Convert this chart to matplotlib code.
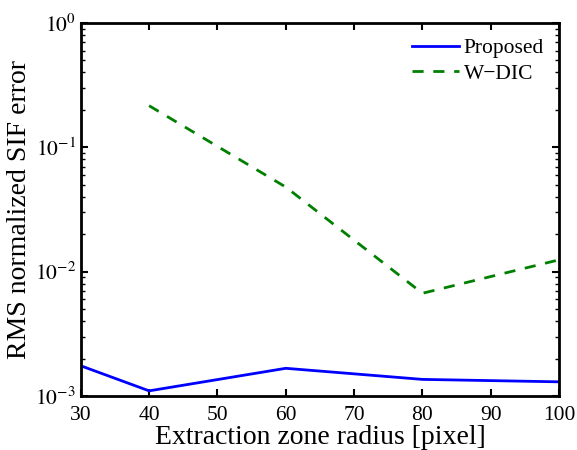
import matplotlib
matplotlib.use("Agg")
import matplotlib.pyplot as plt
import numpy as np

plt.rcParams['font.family'] = ['Liberation Serif', 'DejaVu Serif']
plt.rcParams['mathtext.fontset'] = 'stix'

radius_proposed = [30, 40, 60, 80, 100]
err_proposed = [1.75e-3, 1.10e-3, 1.67e-3, 1.36e-3, 1.30e-3]

radius_wdic = [40, 60, 80, 100]
err_wdic = [0.216, 0.0479, 6.7e-3, 1.245e-2]

fig = plt.figure(figsize=(5.77, 4.5), dpi=100)
ax = fig.add_axes([0.140, 0.12, 0.829, 0.829])

ax.plot(radius_proposed, err_proposed, color='#0000ff', lw=2, label='Proposed')
ax.plot(radius_wdic, err_wdic, color='#008000', lw=2, ls=(0, (4, 3.5)), label='W\u2212DIC')

ax.set_yscale('log')
ax.set_xlim(30, 100)
ax.set_ylim(1e-3, 1e0)
ax.set_xticks([30, 40, 50, 60, 70, 80, 90, 100])
ax.set_yticks([1e-3, 1e-2, 1e-1, 1e0])
ax.set_yticklabels([r'$10^{-3}$', r'$10^{-2}$', r'$10^{-1}$', r'$10^{0}$'])

ax.tick_params(which='both', direction='in', top=True, right=True, labelsize=15.5)
ax.tick_params(axis='x', pad=7)
ax.tick_params(which='major', length=5, width=1.5)
ax.tick_params(which='minor', length=3, width=1)
for s in ax.spines.values():
    s.set_linewidth(2)

ax.set_xlabel('Extraction zone radius [pixel]', fontsize=20, labelpad=0)
ax.set_ylabel('RMS normalized SIF error', fontsize=20, labelpad=2)

leg = ax.legend(loc='upper right', fontsize=15.5, frameon=False, handlelength=2.2,
                handletextpad=0.2, labelspacing=0.25, borderaxespad=0.3)

fig.savefig('out.png', dpi=100)
